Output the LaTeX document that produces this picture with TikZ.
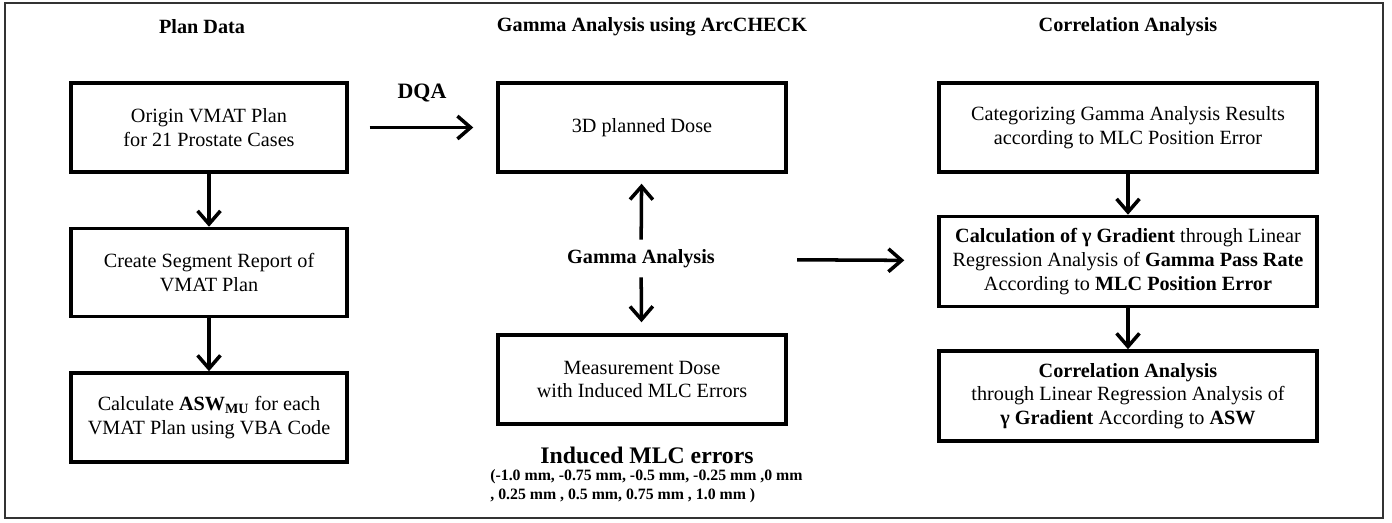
\documentclass[tikz,border=0pt]{standalone}
\usepackage{fontspec}
\setmainfont{Liberation Serif}
\usetikzlibrary{arrows.meta,positioning}

\begin{document}
\begin{tikzpicture}[x=0.02cm,y=-0.02cm]
      \tikzstyle{box}=[rectangle,line width=2pt,draw=black,align=center,font=\fontsize{11.5}{13.5}\selectfont]
      \tikzstyle{head}=[font=\fontsize{11.5}{13.5}\selectfont\bfseries]
      \tikzstyle{arr}=[line width=2pt,-{Straight Barb[length=7.5pt,width=13pt]}]

      \useasboundingbox (0,0) rectangle (1392,523);
      \draw[line width=0.8pt,black!80] (5,3) rectangle (1383,518);

      % column titles
      \node[head](t1) at (202,27){Plan Data};
      \node[head](t2) at (652,27){Gamma Analysis using ArcCHECK};
      \node[head](t3) at (1128,27){Correlation Analysis};

      \begin{scope}[node distance=1.06cm]
        \node[box,minimum width=5.52cm,minimum height=1.78cm](plan1) at (209,127.5){Origin VMAT Plan\\for 21 Prostate Cases};
        \node[box,minimum width=5.52cm,minimum height=1.76cm](plan2)[below=of plan1]{Create Segment Report of\\VMAT Plan};
        \node[box,minimum width=5.52cm,minimum height=1.78cm](plan3)[below=of plan2]{Calculate \textbf{ASW}\textsubscript{\textbf{MU}} for each\\VMAT Plan using VBA Code};

        \path[arr]
        (plan1) edge (plan2)
        (plan2) edge (plan3);
      \end{scope}

      \begin{scope}
        \node[box,minimum width=5.76cm,minimum height=1.78cm](dose1) at (642,127.5){3D planned Dose};
        \node[box,minimum width=5.76cm,minimum height=1.78cm](dose2) at (642,379.5){Measurement Dose\\with Induced MLC Errors};
        \node[head](gam) at (641,259){Gamma Analysis};

        \node[font=\fontsize{12.5}{14}\selectfont\bfseries](dqa) at (422,93){DQA};

        \node[font=\fontsize{13.5}{15}\selectfont\bfseries](induced) at (647,455){Induced MLC errors};
        \node[anchor=west,align=left,inner sep=0pt,font=\fontsize{9}{10.8}\selectfont\bfseries](values) at (490,486.5){(-1.0 mm, -0.75 mm, -0.5 mm, -0.25 mm ,0 mm\\
          , 0.25 mm , 0.5 mm, 0.75 mm , 1.0 mm )};

        \draw[arr,shorten <=0.42cm,shorten >=0.46cm] (plan1) -- (dose1);
        \draw[arr,shorten <=0.08cm,shorten >=0.2cm] (gam) -- (dose1);
        \draw[arr,shorten <=0.06cm,shorten >=0.22cm] (gam) -- (dose2);
      \end{scope}

      \begin{scope}[node distance=0.82cm]
        \node[box,minimum width=7.56cm,minimum height=1.78cm](cor1) at (1128,127.5){Categorizing Gamma Analysis Results\\according to MLC Position Error};
        \node[box,minimum width=7.56cm,minimum height=1.8cm](cor2)[below=of cor1]{\textbf{Calculation of γ Gradient} through Linear\\
          Regression Analysis of \textbf{Gamma Pass Rate}\\According to \textbf{MLC Position Error}};
        \node[box,minimum width=7.56cm,minimum height=1.8cm](cor3)[below=of cor2]{\textbf{Correlation Analysis}\\
          through Linear Regression Analysis of\\\textbf{γ Gradient} According to \textbf{ASW}};

        \path[arr]
        (cor1) edge (cor2)
        (cor2) edge (cor3);

        \draw[arr,shorten <=1.52cm,shorten >=0.66cm] (gam) -- (cor2);
      \end{scope}
\end{tikzpicture}
\end{document}
